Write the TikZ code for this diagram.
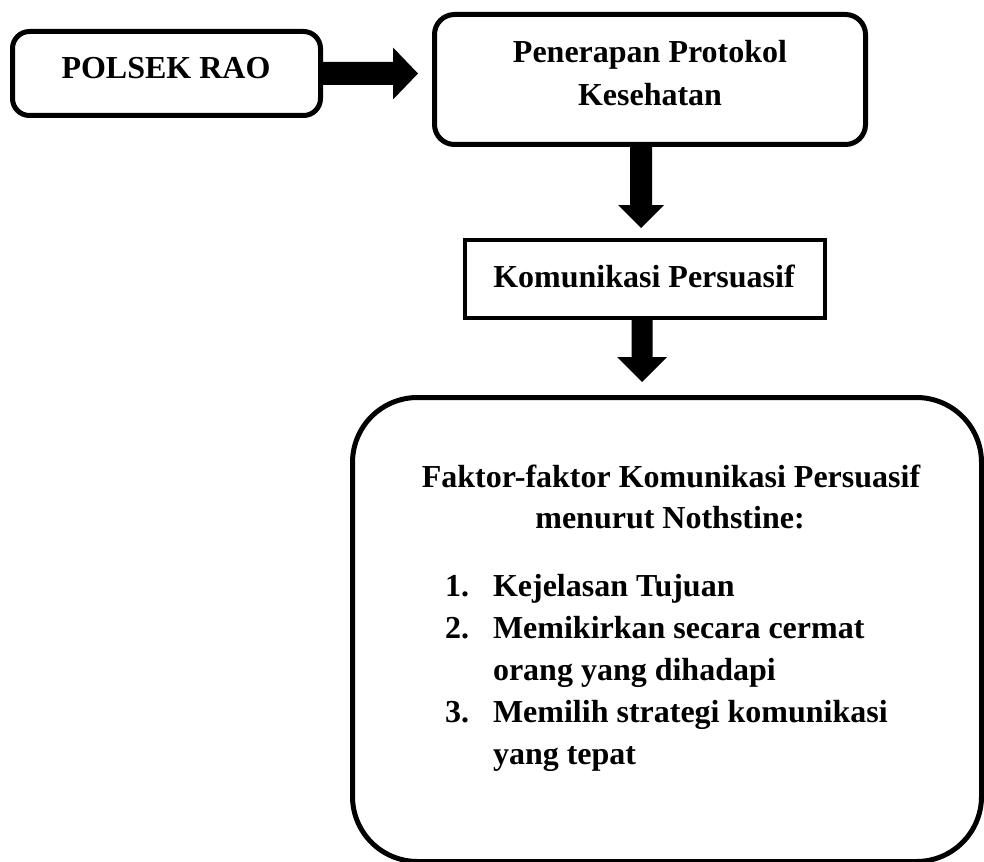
\documentclass[tikz,border=0pt]{standalone}
\usepackage{fontspec}
\setmainfont{Liberation Serif}
\usetikzlibrary{calc}
\begin{document}
\begin{tikzpicture}[x=1pt,y=-1pt,
  boxbase/.style={draw=black, fill=white, inner sep=0pt, outer sep=0pt},
  lbl/.style={font=\fontsize{32}{42}\selectfont\bfseries, inner sep=0pt, outer sep=0pt},
  lblc/.style={lbl, anchor=base},
  lblw/.style={lbl, anchor=base west},
  arrowfill/.style={fill=black}]
\useasboundingbox (0,0) rectangle (984,861);
\fill[white] (0,0) rectangle (984,861);

% boxes
\node[boxbase, line width=5pt, rounded corners=17pt, minimum width=308pt, minimum height=84pt] (b1) at (166.5,73.5) {};
\node[boxbase, line width=5pt, rounded corners=20pt, minimum width=431pt, minimum height=130pt] (b2) at (650,79.5) {};
\node[boxbase, line width=4pt, minimum width=360pt, minimum height=78pt] (b3) at (645,279) {};
\node[boxbase, line width=5pt, rounded corners=65pt, minimum width=629pt, minimum height=464pt] (b4) at (667,629.5) {};

% labels
\node[lblc] (t1) at (166,79) {POLSEK RAO};
\node[lblc] (t2a) at (650,63) {Penerapan Protokol};
\node[lblc] (t2b) at (650,106) {Kesehatan};
\node[lblc] (t3) at (644,287) {Komunikasi Persuasif};
\node[lblc] (h1) at (671,487) {Faktor-faktor Komunikasi Persuasif};
\node[lblc] (h2) at (670,528) {menurut Nothstine:};
\node[lblw] (n1) at (445,596) {1.};
\node[lblw] (i1) at (493,596) {Kejelasan Tujuan};
\node[lblw] (n2) at (445,638) {2.};
\node[lblw] (i2) at (493,638) {Memikirkan secara cermat};
\node[lblw] (i2b) at (493,680) {orang yang dihadapi};
\node[lblw] (n3) at (445,722) {3.};
\node[lblw] (i3) at (493,722) {Memilih strategi komunikasi};
\node[lblw] (i3b) at (493,764) {yang tepat};

% arrow tips
\coordinate (a1) at (418,73.5);
\coordinate (a2) at (641,228);
\coordinate (a3) at (642,382);

% block arrows
\fill[arrowfill] ($(b1.east)+(-1,-11.5)$) -- ($(a1)+(-25,-11.5)$) -- ($(a1)+(-25,-26)$) -- (a1)
  -- ($(a1)+(-25,26)$) -- ($(a1)+(-25,11.5)$) -- ($(b1.east)+(-1,11.5)$) -- cycle;
\fill[arrowfill] ($(a2 |- b2.south)+(-11,-1)$) -- ($(a2)+(-11,-23)$) -- ($(a2)+(-23,-23)$) -- (a2)
  -- ($(a2)+(23,-23)$) -- ($(a2)+(11,-23)$) -- ($(a2 |- b2.south)+(11,-1)$) -- cycle;
\fill[arrowfill] ($(a3 |- b3.south)+(-10.5,-1)$) -- ($(a3)+(-10.5,-25)$) -- ($(a3)+(-25,-25)$) -- (a3)
  -- ($(a3)+(25,-25)$) -- ($(a3)+(10.5,-25)$) -- ($(a3 |- b3.south)+(10.5,-1)$) -- cycle;
\end{tikzpicture}
\end{document}
